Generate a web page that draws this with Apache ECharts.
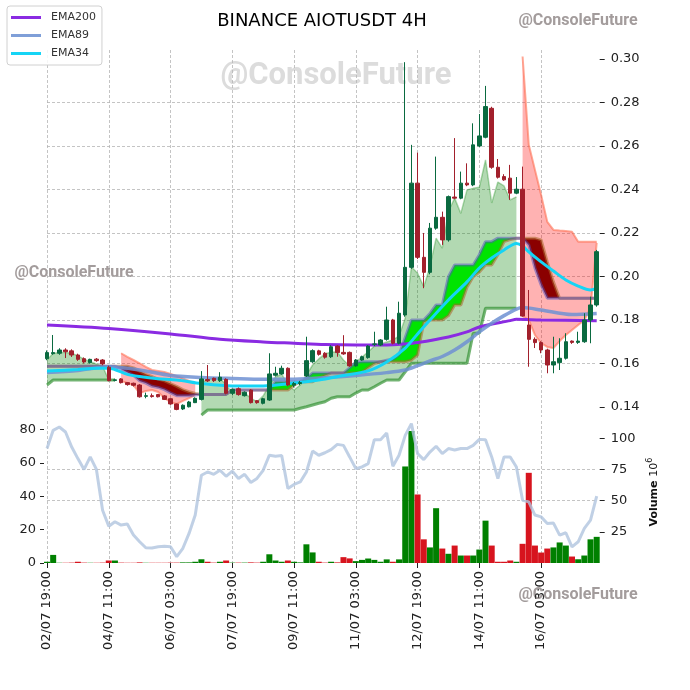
<!DOCTYPE html>
<html><head><meta charset="utf-8">
<script src="https://cdn.jsdelivr.net/npm/echarts@6/dist/echarts.min.js"></script>
<style>html,body{margin:0;padding:0;background:#fff}#c{width:690px;height:690px}</style>
</head><body><div id="c"></div><script>
// ---------- DATA ----------
const startTime = Date.UTC(2024, 6, 2, 19); // 02/07 19:00, 4H candles
const candleCount = 90;
const pad = n => (n < 10 ? '0' : '') + n;
const categories = [];
for (let i = 0; i < candleCount; i++) {
  const d = new Date(startTime + i * 4 * 3600e3);
  categories.push(pad(d.getUTCDate()) + '/' + pad(d.getUTCMonth() + 1) + ' ' + pad(d.getUTCHours()) + ':00');
}
const priceTicks = [0.14,0.16,0.18,0.20,0.22,0.24,0.26,0.28,0.30];
const oscTicks = [0,20,40,60,80];
const volTicks = [25,50,75,100];
const open  = [0.1622,0.1645,0.1647,0.1662,0.1658,0.1639,0.1622,0.1604,0.1620,0.1616,0.1583,0.1522,0.1529,0.1512,0.1509,0.1501,0.1449,0.1452,0.1457,0.1451,0.1438,0.1414,0.1391,0.1401,0.1420,0.1435,0.1526,0.1532,0.1521,0.1527,0.1463,0.1484,0.1452,0.1478,0.1429,0.1417,0.1432,0.1546,0.1552,0.1578,0.1500,0.1508,0.1543,0.1608,0.1658,0.1647,0.1631,0.1680,0.1651,0.1651,0.1589,0.1616,0.1627,0.1688,0.1685,0.1711,0.1800,0.1693,0.1823,0.2042,0.2429,0.2088,0.2019,0.2222,0.2272,0.2168,0.2365,0.2360,0.2429,0.2421,0.2600,0.2640,0.2773,0.2502,0.2459,0.2452,0.2383,0.2401,0.1777,0.1711,0.1696,0.1662,0.1593,0.1604,0.1624,0.1703,0.1697,0.1700,0.1800,0.1869];
const close = [0.1650,0.1650,0.1662,0.1654,0.1639,0.1619,0.1607,0.1619,0.1613,0.1598,0.1521,0.1525,0.1512,0.1503,0.1500,0.1447,0.1452,0.1448,0.1447,0.1435,0.1414,0.1389,0.1408,0.1423,0.1440,0.1529,0.1520,0.1521,0.1537,0.1463,0.1481,0.1457,0.1468,0.1420,0.1420,0.1438,0.1552,0.1555,0.1578,0.1501,0.1508,0.1512,0.1613,0.1659,0.1642,0.1629,0.1677,0.1650,0.1644,0.1589,0.1616,0.1631,0.1680,0.1690,0.1708,0.1800,0.1693,0.1831,0.2042,0.2429,0.2088,0.2019,0.2222,0.2272,0.2168,0.2367,0.2360,0.2429,0.2421,0.2605,0.2646,0.2781,0.2502,0.2456,0.2444,0.2383,0.2401,0.1818,0.1711,0.1696,0.1662,0.1593,0.1608,0.1624,0.1700,0.1697,0.1703,0.1800,0.1869,0.2114];
const low   = [0.1615,0.1640,0.1640,0.1625,0.1630,0.1612,0.1600,0.1600,0.1608,0.1592,0.1518,0.1518,0.1508,0.1498,0.1494,0.1443,0.1440,0.1443,0.1444,0.1432,0.1410,0.1385,0.1386,0.1398,0.1418,0.1430,0.1515,0.1515,0.1515,0.1458,0.1455,0.1452,0.1448,0.1416,0.1415,0.1412,0.1428,0.1540,0.1548,0.1495,0.1490,0.1500,0.1538,0.1603,0.1636,0.1622,0.1625,0.1631,0.1640,0.1585,0.1585,0.1612,0.1622,0.1680,0.1680,0.1705,0.1688,0.1688,0.1815,0.2035,0.2080,0.1946,0.2010,0.2215,0.2145,0.2160,0.2355,0.2355,0.2415,0.2415,0.2595,0.2635,0.2495,0.2450,0.2440,0.2352,0.2378,0.1815,0.1585,0.1671,0.1647,0.1555,0.1555,0.1570,0.1618,0.1690,0.1690,0.1695,0.1693,0.1861];
const high  = [0.1660,0.1731,0.1670,0.1670,0.1665,0.1645,0.1628,0.1622,0.1625,0.1620,0.1590,0.1530,0.1533,0.1515,0.1512,0.1505,0.1466,0.1462,0.1460,0.1455,0.1440,0.1416,0.1412,0.1428,0.1444,0.1565,0.1593,0.1535,0.1560,0.1532,0.1485,0.1490,0.1472,0.1482,0.1432,0.1442,0.1647,0.1585,0.1590,0.1582,0.1515,0.1520,0.1723,0.1665,0.1663,0.1652,0.1684,0.1684,0.1730,0.1655,0.1620,0.1636,0.1684,0.1746,0.1712,0.1861,0.1805,0.1884,0.2985,0.2605,0.2569,0.2200,0.2246,0.2551,0.2298,0.2372,0.2636,0.2482,0.2520,0.2704,0.2747,0.2876,0.2780,0.2540,0.2470,0.2513,0.2457,0.2505,0.1938,0.1720,0.1702,0.1668,0.1723,0.1716,0.1739,0.1706,0.1746,0.1831,0.1907,0.2122];
const volume = [1,6.5,0.2,0.2,0.3,1,0.3,0.2,0.2,0.3,2,2,0.3,0.2,0.2,0.5,0.2,0.2,0.2,0.2,0.3,0.3,0.5,0.5,1,3,1,0.3,1,2,0.3,0.3,0.3,0.5,0.3,1,7,2,1,2,1,0.5,15,8.5,1,0.3,1,0.5,4.7,3.7,1.5,2.5,3.6,2.5,1,2.9,1,2.9,77.5,106,55,19,12.5,44,11.6,7.4,14,6,6,6,10.8,34,14,1,1,2,1,15.4,72.4,14,8.4,11.6,12.5,16.5,14,5.2,3,6,19,21];
const oscillator = [68.5,79.4,81.4,78.4,69.4,62.5,56,63.5,56,31.6,22,24.7,22.7,23.3,16.7,12.7,9.1,9,9.7,10,9.7,3.8,8.8,17.7,28.7,52.5,54.5,53.1,55.5,51.9,55,50.6,53.1,48.2,50.6,55.5,64.5,63.9,64.3,44.6,47,48.5,54.5,67,64.5,66,67.9,71,70.4,63.5,56.5,57.5,59.5,73.8,73.8,77.8,57.9,64.5,76.4,83.4,65.5,61.9,66.4,69.9,65.5,68.5,67.6,68.5,68.5,70.4,74,73.8,63.5,50.6,63.5,63.5,57.5,37.6,36.6,28.7,27.6,23.7,23.9,16.7,18.1,9.7,12.7,20.7,25.7,40];
// EMA lines read at sample candles: [candle index, price]
const ema200 = [[0,0.1777],[10,0.1761],[20,0.1736],[28,0.1711],[35,0.1699],[40,0.1693],[45,0.1687],[50,0.1685],[55,0.1685],[58,0.1690],[60,0.1696],[65,0.1722],[68,0.1745],[70,0.1768],[75,0.1797],[76,0.1803],[80,0.1800],[89,0.1797]];
const ema89 = [[0,0.1558],[5,0.1568],[10,0.1585],[15,0.1570],[20,0.1545],[25,0.1536],[30,0.1531],[35,0.1527],[40,0.1528],[45,0.1535],[50,0.1545],[55,0.1558],[58,0.1570],[60,0.1590],[62,0.1612],[64,0.1632],[66,0.1662],[68,0.1700],[70,0.1745],[72,0.1785],[74,0.1820],[76,0.1850],[77,0.1857],[80,0.1846],[85,0.1825],[89,0.1830]];
const ema34 = [[0,0.1565],[5,0.1572],[8,0.1578],[10,0.1578],[13,0.1550],[15,0.1540],[18,0.1530],[21,0.1524],[25,0.1508],[30,0.1497],[35,0.1497],[40,0.1510],[44,0.1524],[48,0.1545],[52,0.1566],[55,0.1607],[58,0.1671],[60,0.1736],[62,0.1800],[65,0.1892],[68,0.1975],[70,0.2039],[72,0.2085],[74,0.2122],[76,0.2152],[77,0.2140],[78,0.2113],[80,0.2067],[82,0.2025],[84,0.1984],[86,0.1956],[88,0.1938],[89,0.1945]];
// Green cloud (start index + values)
const greenStart1 = 0, greenStart2 = 25;
const greenUpper1 = [0.1616,0.1647,0.1650,0.1650,0.1647,0.1635,0.1620,0.1608,0.1598,0.1588,0.1524,0.1524];
const greenLower1 = [0.1501,0.1524,0.1524,0.1524,0.1524,0.1524,0.1524,0.1524,0.1524,0.1524,0.1524,0.1524];
const greenUpper2 = [0.1510,0.1529,0.1533,0.1533,0.1501,0.1464,0.1469,0.1464,0.1441,0.1424,0.1451,0.1501,0.1538,0.1552,0.1501,0.1478,0.1501,0.1547,0.1593,0.1621,0.1644,0.1653,0.1653,0.1616,0.1589,0.1607,0.1630,0.1654,0.1680,0.1690,0.1699,0.1708,0.1726,0.1809,0.2045,0.2015,0.1953,0.2045,0.2176,0.2130,0.2300,0.2360,0.2290,0.2398,0.2405,0.2410,0.2536,0.2338,0.2434,0.2416,0.2352,0.2366];
const greenLower2 = [0.1363,0.1386,0.1386,0.1386,0.1386,0.1386,0.1386,0.1386,0.1386,0.1386,0.1386,0.1386,0.1386,0.1386,0.1386,0.1386,0.1394,0.1401,0.1409,0.1417,0.1424,0.1440,0.1447,0.1447,0.1447,0.1464,0.1478,0.1478,0.1493,0.1509,0.1524,0.1524,0.1524,0.1562,0.1601,0.1601,0.1601,0.1601,0.1601,0.1601,0.1601,0.1601,0.1601,0.1601,0.1739,0.1739,0.1854,0.1854,0.1854,0.1854,0.1854,0.1854];
// Red cloud
const redStart1 = 12, redStart2 = 77;
const redUpper1 = [0.1647,0.1630,0.1616,0.1601,0.1584,0.1570,0.1566,0.1561,0.1552,0.1543,0.1531,0.1520,0.1509];
const redLower1 = [0.1520,0.1510,0.1501,0.1464,0.1474,0.1478,0.1469,0.1441,0.1423,0.1414,0.1428,0.1441,0.1455];
const redUpper2 = [0.3011,0.2605,0.2490,0.2375,0.2251,0.2214,0.2211,0.2209,0.2206,0.2160,0.2160,0.2160,0.2160];
const redLower2 = [0.1818,0.1800,0.1731,0.1694,0.1676,0.1671,0.1703,0.1731,0.1754,0.1777,0.1800,0.1855,0.2154];
// Trend band: fast line and slow line
const bandFast = [0.1587,0.1587,0.1587,0.1587,0.1587,0.1587,0.1587,0.1587,0.1587,0.1587,0.1587,0.1587,0.1575,0.1560,0.1545,0.1520,0.1510,0.1495,0.1490,0.1480,0.1465,0.1452,0.1452,0.1452,0.1455,0.1458,0.1458,0.1458,0.1458,0.1458,0.1478,0.1478,0.1478,0.1478,0.1478,0.1478,0.1478,0.1516,0.1516,0.1516,0.1516,0.1516,0.1533,0.1556,0.1556,0.1556,0.1556,0.1556,0.1556,0.1580,0.1605,0.1608,0.1608,0.1608,0.1608,0.1615,0.1620,0.1640,0.1720,0.1800,0.1800,0.1800,0.1830,0.1869,0.1869,0.1999,0.2053,0.2053,0.2053,0.2053,0.2100,0.2160,0.2160,0.2176,0.2176,0.2176,0.2176,0.2176,0.2145,0.2039,0.1961,0.1900,0.1900,0.1900,0.1900,0.1900,0.1900,0.1900,0.1900,0.1900];
const bandSlow = [0.1587,0.1587,0.1587,0.1587,0.1587,0.1587,0.1587,0.1587,0.1587,0.1587,0.1587,0.1587,0.1587,0.1587,0.1580,0.1565,0.1550,0.1540,0.1528,0.1520,0.1508,0.1495,0.1480,0.1470,0.1462,0.1458,0.1458,0.1458,0.1458,0.1458,0.1478,0.1478,0.1478,0.1478,0.1478,0.1478,0.1478,0.1478,0.1478,0.1478,0.1500,0.1516,0.1516,0.1516,0.1533,0.1545,0.1556,0.1556,0.1556,0.1556,0.1556,0.1560,0.1580,0.1600,0.1608,0.1608,0.1608,0.1608,0.1608,0.1615,0.1640,0.1790,0.1800,0.1800,0.1800,0.1820,0.1869,0.1869,0.1950,0.1999,0.2020,0.2053,0.2053,0.2100,0.2160,0.2170,0.2176,0.2176,0.2176,0.2176,0.2168,0.2067,0.1975,0.1900,0.1900,0.1900,0.1900,0.1900,0.1900,0.1900];

// ---------- BUILD ----------
const N = categories.length;
function place(parts) {
  const a = new Array(N).fill(null);
  parts.forEach(([s, vals]) => vals.forEach((v, k) => { a[s + k] = v; }));
  return a;
}
const gUp = place([[greenStart1, greenUpper1], [greenStart2, greenUpper2]]);
const gLo = place([[greenStart1, greenLower1], [greenStart2, greenLower2]]);
const rUp = place([[redStart1, redUpper1], [redStart2, redUpper2]]);
const rLo = place([[redStart1, redLower1], [redStart2, redLower2]]);
const diff = (u, l) => u.map((v, i) => (v == null || l[i] == null) ? null : +(v - l[i]).toFixed(6));
const bandBase = bandFast.map((a, i) => Math.min(a, bandSlow[i]));
const bandUp = bandFast.map((a, i) => +Math.max(a - bandSlow[i], 0).toFixed(6));
const bandDn = bandFast.map((a, i) => +Math.max(bandSlow[i] - a, 0).toFixed(6));
const candles = open.map((o, i) => [o, close[i], low[i], high[i]]);
const volBars = volume.map((v, i) => ({ value: v, itemStyle: { color: close[i] >= open[i] ? '#008000' : '#d7141e' } }));

const FONT = 'DejaVu Sans';
const gridLine = { color: '#b5b5b5', type: [3, 2], width: 0.8 };
const noSym = { symbol: 'none', silent: true };
const chart = echarts.init(document.getElementById('c'), null, { renderer: 'canvas' });
chart.setOption({
  animation: false,
  textStyle: { fontFamily: FONT },
  legend: {
    data: [{ name: 'EMA200', icon: 'rect' }, { name: 'EMA89', icon: 'rect' }, { name: 'EMA34', icon: 'rect' }],
    orient: 'vertical', left: 7, top: 6, itemWidth: 30, itemHeight: 3, itemGap: 5,
    padding: [5, 6, 5, 4], backgroundColor: 'rgba(255,255,255,0.85)', borderColor: '#d0d0d0', borderWidth: 1, borderRadius: 3,
    textStyle: { fontSize: 11, color: '#333', fontFamily: FONT, padding: [0, 0, 0, 5], lineHeight: 13 }
  },
  graphic: [
    { type: 'text', x: 336, y: 76, z: -10, style: { text: '@ConsoleFuture', font: 'bold 31px Roboto', fill: '#dcdcdc', align: 'center', verticalAlign: 'middle', textAlign: 'center', textVerticalAlign: 'middle' } },
    { type: 'text', x: 578, y: 21, style: { text: '@ConsoleFuture', font: 'bold 16px Roboto', fill: '#a39c9c', align: 'center', verticalAlign: 'middle', textAlign: 'center', textVerticalAlign: 'middle' } },
    { type: 'text', x: 74, y: 273, style: { text: '@ConsoleFuture', font: 'bold 16px Roboto', fill: '#a39c9c', align: 'center', verticalAlign: 'middle', textAlign: 'center', textVerticalAlign: 'middle' } },
    { type: 'text', x: 578, y: 595, style: { text: '@ConsoleFuture', font: 'bold 16px Roboto', fill: '#a39c9c', align: 'center', verticalAlign: 'middle', textAlign: 'center', textVerticalAlign: 'middle' } },
    { type: 'text', x: 322, y: 21, style: { text: 'BINANCE AIOTUSDT 4H', font: '18px "DejaVu Sans"', fill: '#000', align: 'center', verticalAlign: 'middle', textAlign: 'center', textVerticalAlign: 'middle' } }
  ],
  grid: [
    { left: 47, right: 93.3, top: 50, height: 367 },
    { left: 47, right: 93.3, top: 421, height: 142 }
  ],
  xAxis: [
    { gridIndex: 0, type: 'category', data: categories, boundaryGap: false,
      axisLine: { show: false }, axisTick: { show: false }, axisLabel: { show: false },
      splitLine: { show: true, interval: 9, lineStyle: gridLine } },
    { gridIndex: 1, type: 'category', data: categories, boundaryGap: false,
      axisLine: { show: false },
      axisTick: { show: true, interval: 9, length: 5, lineStyle: { color: '#222' } },
      axisLabel: { interval: 9, rotate: 90, fontSize: 13, color: '#222', fontFamily: FONT, margin: 8 },
      splitLine: { show: true, interval: 9, lineStyle: gridLine } }
  ],
  yAxis: [
    { gridIndex: 0, type: 'value', position: 'right', offset: 3, min: 0.1354, max: 0.3041,
      splitNumber: 8, minInterval: 0.02, maxInterval: 0.02,
      axisLine: { show: false }, axisTick: { show: true, length: 5, customValues: priceTicks, lineStyle: { color: '#222' } },
      axisLabel: { fontSize: 13, color: '#222', margin: 11, fontFamily: FONT,
        formatter: v => Math.abs(v * 50 - Math.round(v * 50)) < 1e-6 ? v.toFixed(2) : '' },
      splitLine: { show: true, showMinLine: false, showMaxLine: false, lineStyle: gridLine } },
    { gridIndex: 1, type: 'value', position: 'left', offset: 3, min: 0, max: 85, interval: 20,
      axisLine: { show: false }, axisTick: { show: true, length: 4, customValues: oscTicks, lineStyle: { color: '#222' } },
      axisLabel: { fontSize: 13, color: '#222', margin: 8, fontFamily: FONT, formatter: v => (v % 20 === 0 ? String(v) : '') },
      splitLine: { show: false } },
    { gridIndex: 1, type: 'value', position: 'right', offset: 3, min: 0, max: 114, interval: 25,
      axisLine: { show: false }, axisTick: { show: true, length: 5, customValues: volTicks, lineStyle: { color: '#222' } },
      axisLabel: { fontSize: 13, color: '#222', margin: 11, fontFamily: FONT, formatter: v => (v > 0 && v % 25 === 0 ? String(v) : '') },
      splitLine: { show: true, showMinLine: false, showMaxLine: false, lineStyle: gridLine },
      name: '{v|Volume} {n|10}{s|6}', nameLocation: 'middle', nameRotate: 90, nameGap: 36,
      nameTextStyle: { rich: {
        v: { fontSize: 11, fontWeight: 'bold', color: '#111', fontFamily: FONT },
        n: { fontSize: 11, color: '#111', fontFamily: FONT },
        s: { fontSize: 8, color: '#111', fontFamily: FONT, padding: [0, 0, 7, 0] } } } }
  ],
  series: [
    // green cloud
    Object.assign({ type: 'line', name: 'gLo', data: gLo, stack: 'gc', stackStrategy: 'all', z: 3,
      lineStyle: { color: 'rgba(40,140,40,0.65)', width: 3 } }, noSym),
    Object.assign({ type: 'line', name: 'gUp', data: diff(gUp, gLo), stack: 'gc', stackStrategy: 'all', z: 1,
      lineStyle: { color: 'rgba(0,128,0,0.3)', width: 1.5 }, areaStyle: { color: 'rgba(0,128,0,0.3)', opacity: 1 } }, noSym),
    // red cloud
    Object.assign({ type: 'line', name: 'rLo', data: rLo, stack: 'rc', stackStrategy: 'all', z: 3,
      lineStyle: { color: 'rgba(255,110,80,0.6)', width: 2 } }, noSym),
    Object.assign({ type: 'line', name: 'rUp', data: diff(rUp, rLo), stack: 'rc', stackStrategy: 'all', z: 1,
      lineStyle: { color: 'rgba(255,110,80,0.6)', width: 2 }, areaStyle: { color: 'rgba(255,0,0,0.3)', opacity: 1 } }, noSym),
    // trend band
    Object.assign({ type: 'line', name: 'bBase', data: bandBase, stack: 'bd', stackStrategy: 'all', z: 4,
      lineStyle: { width: 0, opacity: 0 } }, noSym),
    Object.assign({ type: 'line', name: 'bUp', data: bandUp, stack: 'bd', stackStrategy: 'all', z: 4,
      lineStyle: { width: 0, opacity: 0 }, areaStyle: { color: '#00e400', opacity: 1 } }, noSym),
    Object.assign({ type: 'line', name: 'bDn', data: bandDn, stack: 'bd', stackStrategy: 'all', z: 4,
      lineStyle: { width: 0, opacity: 0 }, areaStyle: { color: '#8b0000', opacity: 1 } }, noSym),
    Object.assign({ type: 'line', name: 'bSlow', data: bandSlow, z: 5, lineStyle: { color: 'rgba(170,100,40,0.55)', width: 3 } }, noSym),
    Object.assign({ type: 'line', name: 'bFast', data: bandFast, z: 5, lineStyle: { color: 'rgba(80,80,190,0.5)', width: 3 } }, noSym),
    // EMAs
    Object.assign({ type: 'line', name: 'EMA200', data: ema200, smooth: 0.3, z: 6, color: '#8a2be2', lineStyle: { color: '#8a2be2', width: 3 } }, noSym),
    Object.assign({ type: 'line', name: 'EMA89', data: ema89, smooth: 0.3, z: 6, color: '#7f9fd8', lineStyle: { color: 'rgba(110,145,210,0.85)', width: 3.5 } }, noSym),
    Object.assign({ type: 'line', name: 'EMA34', data: ema34, smooth: 0.3, z: 6, color: '#15d4f5', lineStyle: { color: '#15d4f5', width: 3 } }, noSym),
    // candles
    { type: 'candlestick', name: 'price', data: candles, barWidth: 4, z: 8, clip: false, silent: true,
      itemStyle: { color: '#0a6a40', color0: '#a2202c', borderColor: '#0a6a40', borderColor0: '#a2202c', borderWidth: 1 } },
    // volume panel
    { type: 'bar', name: 'vol', xAxisIndex: 1, yAxisIndex: 2, data: volBars, barWidth: 6, clip: false, silent: true, z: 2 },
    Object.assign({ type: 'line', name: 'osc', xAxisIndex: 1, yAxisIndex: 1, data: oscillator, z: 3,
      lineStyle: { color: 'rgba(176,196,222,0.8)', width: 3 } }, noSym)
  ]
});
</script></body></html>
